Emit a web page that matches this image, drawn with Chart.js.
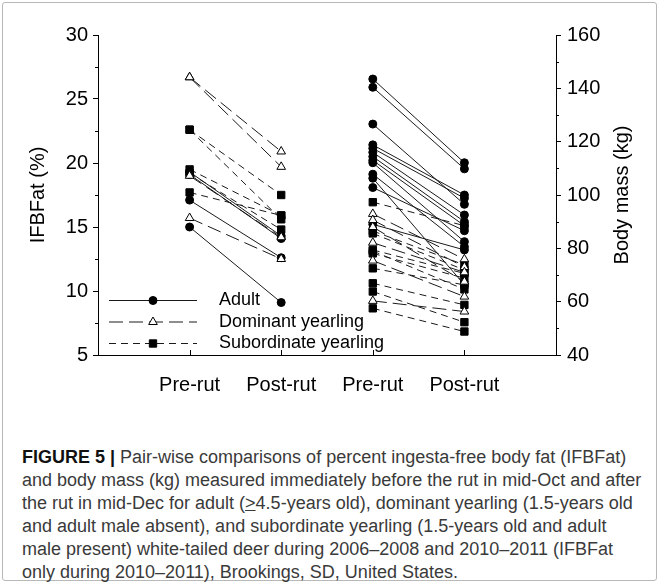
<!DOCTYPE html>
<html>
<head>
<meta charset="utf-8">
<script src="https://cdn.jsdelivr.net/npm/chart.js@4"></script>
<style>
  html, body { margin: 0; padding: 0; background: #fff; }
  #frame { position: absolute; left: 2px; top: 2px; width: 653px; height: 577px; border: 1px solid #b8b8b8; border-radius: 3px; }
  #wrap { position: absolute; left: 0; top: 0; width: 659px; height: 410px; }
  #caption {
    position: absolute; left: 22px; top: 446px; width: 640px;
    font-family: "Liberation Sans", Arial, sans-serif; font-size: 18px; line-height: 23px;
    color: #3a3a3a; white-space: nowrap;
  }
  #caption b { color: #111; }
</style>
</head>
<body>
<div id="frame"></div>
<div id="wrap"><canvas id="chart" width="659" height="410"></canvas></div>
<div id="caption">
  <b>FIGURE 5 |</b> Pair-wise comparisons of percent ingesta-free body fat (IFBFat)<br>
  and body mass (kg) measured immediately before the rut in mid-Oct and after<br>
  the rut in mid-Dec for adult (<u>&gt;</u>4.5-years old), dominant yearling (1.5-years old<br>
  and adult male absent), and subordinate yearling (1.5-years old and adult<br>
  male present) white-tailed deer during 2006–2008 and 2010–2011 (IFBFat<br>
  only during 2010–2011), Brookings, SD, United States.
</div>
<script>
const xLabels = ['Pre-rut', 'Post-rut', 'Pre-rut', 'Post-rut'];
const yTitle = 'IFBFat (%)';
const y2Title = 'Body mass (kg)';

// IFBFat (%), left axis
const fatAdultPre = [19.3, 19.1, 17.1, 15.0];
const fatAdultPost = [14.3, 14.1, 12.6, 9.1];
const fatDomPre = [26.7, 26.7, 19.0, 15.7];
const fatDomPost = [20.9, 19.7, 14.2, 12.5];
const fatSubPre = [22.6, 22.6, 19.5, 19.2, 17.7];
const fatSubPost = [17.5, 15.6, 15.9, 14.8, 15.9];

// Body mass (kg), right axis
const massAdultPre = [143.5, 140.4, 126.6, 118.8, 117.5, 116.0, 114.4, 113.0, 112.1, 107.8, 106.3, 102.8, 89.0];
const massAdultPost = [112.1, 109.8, 96.5, 100.0, 98.8, 92.5, 90.0, 88.5, 82.5, 80.6, 66.3, 86.6, 79.4];
const massDomPre = [92.9, 90.6, 88.0, 82.1, 75.4, 60.3];
const massDomPost = [75.9, 73.0, 67.5, 71.0, 61.9, 56.3];
const massSubPre = [97.3, 86.5, 85.6, 79.4, 79.0, 78.1, 72.5, 66.9, 63.8, 57.5];
const massSubPost = [88.5, 73.8, 71.9, 70.6, 64.6, 68.8, 66.3, 58.8, 52.3, 48.8];

const LINE = '#1a1a1a';
const FONT = '"Liberation Sans", Arial, sans-serif';
const groups = {
  adult: { label: 'Adult', dash: [], style: 'circle', radius: 4, fill: '#000' },
  dom: { label: 'Dominant yearling', dash: [14, 6], style: 'triangle', radius: 5, fill: '#fff' },
  sub: { label: 'Subordinate yearling', dash: [7, 5], style: 'rect', radius: 5.2, fill: '#000' }
};

function pairs(pre, post, xPre) {
  const pts = [];
  pre.forEach((v, i) => {
    pts.push({ x: xPre, y: v }, { x: xPre + 1, y: post[i] }, { x: xPre + 0.5, y: null });
  });
  return pts;
}

function dataset(g, pts, axis) {
  return {
    label: g.label,
    data: pts,
    yAxisID: axis,
    borderColor: LINE,
    borderWidth: 1,
    borderDash: g.dash,
    pointStyle: g.style,
    pointRadius: g.radius,
    pointBackgroundColor: g.fill,
    pointBorderColor: '#000',
    pointBorderWidth: 1,
    spanGaps: false,
    tension: 0
  };
}

function drawMarker(ctx, g, x, y) {
  const r = g.radius;
  ctx.fillStyle = g.fill;
  ctx.strokeStyle = '#000';
  ctx.beginPath();
  if (g.style === 'circle') {
    ctx.arc(x, y, r, 0, Math.PI * 2);
  } else if (g.style === 'triangle') {
    ctx.moveTo(x, y - r);
    ctx.lineTo(x + r * 0.866, y + r * 0.5);
    ctx.lineTo(x - r * 0.866, y + r * 0.5);
    ctx.closePath();
  } else {
    const s = r * Math.SQRT1_2;
    ctx.rect(x - s, y - s, 2 * s, 2 * s);
  }
  ctx.fill();
  ctx.stroke();
}

// minor ticks halfway between the major ones
function minorTicks(ctx, scale, dir) {
  const t = scale.ticks;
  const edge = dir < 0 ? scale.right : scale.left;
  for (let i = 0; i < t.length - 1; i++) {
    const mid = (t[i].value + t[i + 1].value) / 2;
    const py = Math.round(scale.getPixelForValue(mid)) + 0.5;
    ctx.beginPath();
    ctx.moveTo(edge, py);
    ctx.lineTo(edge + dir * 3, py);
    ctx.stroke();
  }
}

// inward x ticks, minor y ticks, axis titles and the legend
const extras = {
  id: 'extras',
  afterDraw(chart) {
    const ctx = chart.ctx;
    const area = chart.chartArea;
    const xs = chart.scales.x;
    ctx.save();
    ctx.strokeStyle = '#000';
    ctx.lineWidth = 1;
    [1, 2, 3, 4].forEach(v => {
      const px = Math.round(xs.getPixelForValue(v)) + 0.5;
      ctx.beginPath();
      ctx.moveTo(px, area.bottom);
      ctx.lineTo(px, area.bottom - 5);
      ctx.stroke();
    });
    minorTicks(ctx, chart.scales.y, -1);
    minorTicks(ctx, chart.scales.y2, 1);

    ctx.fillStyle = '#000';
    ctx.font = '20px ' + FONT;
    ctx.textAlign = 'center';
    ctx.textBaseline = 'middle';
    const midY = (area.top + area.bottom) / 2;
    [[38, yTitle], [622, y2Title]].forEach(([tx, text]) => {
      ctx.save();
      ctx.translate(tx, midY);
      ctx.rotate(-Math.PI / 2);
      ctx.fillText(text, 0, 0);
      ctx.restore();
    });

    const rows = [groups.adult, groups.dom, groups.sub];
    rows.forEach((g, i) => {
      const y = 300.5 + i * 21.5;
      ctx.strokeStyle = LINE;
      ctx.setLineDash(g.dash);
      ctx.beginPath();
      ctx.moveTo(109, y);
      ctx.lineTo(197, y);
      ctx.stroke();
      ctx.setLineDash([]);
      drawMarker(ctx, g, 153, y);
      ctx.fillStyle = '#000';
      ctx.font = '18px ' + FONT;
      ctx.textBaseline = 'middle';
      ctx.textAlign = 'left';
      ctx.fillText(g.label, 219, y);
    });
    ctx.restore();
  }
};

const tickFont = { family: FONT, size: 20 };

new Chart(document.getElementById('chart'), {
  type: 'line',
  data: {
    datasets: [
      dataset(groups.dom, pairs(fatDomPre, fatDomPost, 1), 'y'),
      dataset(groups.sub, pairs(fatSubPre, fatSubPost, 1), 'y'),
      dataset(groups.adult, pairs(fatAdultPre, fatAdultPost, 1), 'y'),
      dataset(groups.dom, pairs(massDomPre, massDomPost, 3), 'y2'),
      dataset(groups.sub, pairs(massSubPre, massSubPost, 3), 'y2'),
      dataset(groups.adult, pairs(massAdultPre, massAdultPost, 3), 'y2')
    ]
  },
  options: {
    responsive: false,
    animation: false,
    layout: { padding: { top: 35, left: 0, right: 0, bottom: 0 } },
    plugins: { legend: { display: false }, tooltip: { enabled: false } },
    scales: {
      x: {
        type: 'linear', min: 0, max: 5,
        afterBuildTicks: axis => { axis.ticks = [1, 2, 3, 4].map(v => ({ value: v })); },
        afterFit: axis => { axis.height = 55; },
        ticks: { callback: v => xLabels[v - 1], color: '#000', font: tickFont, padding: 18, maxRotation: 0 },
        grid: { drawOnChartArea: false, drawTicks: false },
        border: { display: true, color: '#000', width: 1 }
      },
      y: {
        position: 'left', min: 5, max: 30,
        ticks: { stepSize: 5, color: '#000', font: tickFont, padding: 5 },
        afterFit: axis => { axis.width = 98; },
        grid: { drawOnChartArea: false, drawTicks: true, tickLength: 5, tickColor: '#000' },
        border: { display: true, color: '#000', width: 1 }
      },
      y2: {
        position: 'right', min: 40, max: 160,
        ticks: { stepSize: 20, color: '#000', font: tickFont, padding: 6 },
        afterFit: axis => { axis.width = 103; },
        grid: { drawOnChartArea: false, drawTicks: true, tickLength: 5, tickColor: '#000' },
        border: { display: true, color: '#000', width: 1 }
      }
    }
  },
  plugins: [extras]
});
</script>
</body>
</html>
